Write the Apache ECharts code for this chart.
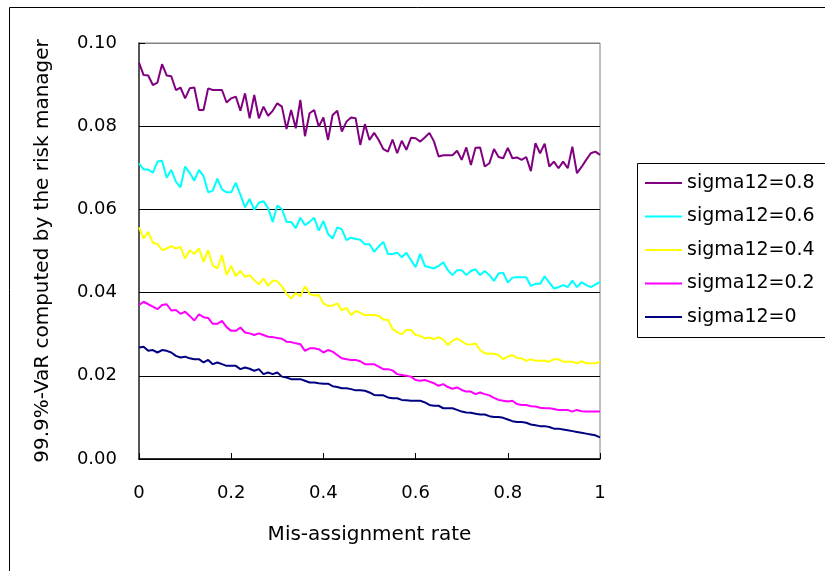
<!DOCTYPE html>
<html><head><meta charset="utf-8">
<script src="https://cdn.jsdelivr.net/npm/echarts@6/dist/echarts.min.js"></script>
<style>html,body{margin:0;padding:0;background:#fff}#c{width:825px;height:571px}</style>
</head><body><div id="c"></div>
<script>
const rates = [0,0.01,0.02,0.03,0.04,0.05,0.06,0.07,0.08,0.09,0.1,0.11,0.12,0.13,0.14,0.15,0.16,0.17,0.18,0.19,0.2,0.21,0.22,0.23,0.24,0.25,0.26,0.27,0.28,0.29,0.3,0.31,0.32,0.33,0.34,0.35,0.36,0.37,0.38,0.39,0.4,0.41,0.42,0.43,0.44,0.45,0.46,0.47,0.48,0.49,0.5,0.51,0.52,0.53,0.54,0.55,0.56,0.57,0.58,0.59,0.6,0.61,0.62,0.63,0.64,0.65,0.66,0.67,0.68,0.69,0.7,0.71,0.72,0.73,0.74,0.75,0.76,0.77,0.78,0.79,0.8,0.81,0.82,0.83,0.84,0.85,0.86,0.87,0.88,0.89,0.9,0.91,0.92,0.93,0.94,0.95,0.96,0.97,0.98,0.99,1];

const sigma08 = [0.0953,0.0923,0.0922,0.0899,0.0905,0.0949,0.0922,0.0920,0.0887,0.0893,
0.0867,0.0891,0.0893,0.0839,0.0839,0.0891,0.0887,0.0887,0.0887,0.0857,
0.0867,0.0871,0.0837,0.0879,0.0819,0.0875,0.0819,0.0847,0.0825,0.0837,
0.0855,0.0847,0.0793,0.0839,0.0795,0.0863,0.0776,0.0831,0.0839,0.0799,
0.0821,0.0767,0.0827,0.0837,0.0787,0.0811,0.0821,0.0819,0.0755,0.0805,
0.0767,0.0784,0.0767,0.0745,0.0739,0.0768,0.0735,0.0765,0.0743,0.0772,
0.0771,0.0763,0.0773,0.0784,0.0763,0.0727,0.0730,0.0730,0.0730,0.0741,
0.0719,0.0749,0.0707,0.0748,0.0749,0.0703,0.0711,0.0745,0.0726,0.0723,
0.0748,0.0723,0.0725,0.0719,0.0726,0.0692,0.0759,0.0735,0.0758,0.0703,
0.0715,0.0699,0.0715,0.0699,0.0751,0.0687,0.0702,0.0719,0.0735,0.0739,0.0731];

const sigma06 = [0.0711,0.0696,0.0696,0.0688,0.0715,0.0717,0.0676,0.0695,0.0667,0.0653,
0.0703,0.0688,0.0669,0.0695,0.0680,0.0641,0.0645,0.0674,0.0648,0.0641,
0.0641,0.0664,0.0635,0.0605,0.0625,0.0599,0.0616,0.0620,0.0603,0.0570,
0.0609,0.0601,0.0570,0.0570,0.0555,0.0580,0.0562,0.0570,0.0580,0.0549,
0.0572,0.0541,0.0530,0.0557,0.0552,0.0526,0.0532,0.0529,0.0527,0.0516,
0.0516,0.0498,0.0511,0.0522,0.0493,0.0493,0.0496,0.0485,0.0496,0.0478,
0.0461,0.0493,0.0464,0.0461,0.0458,0.0464,0.0473,0.0454,0.0442,0.0454,
0.0454,0.0442,0.0452,0.0456,0.0442,0.0452,0.0442,0.0428,0.0446,0.0448,
0.0424,0.0436,0.0437,0.0437,0.0437,0.0416,0.0421,0.0421,0.0439,0.0424,
0.0410,0.0413,0.0418,0.0413,0.0429,0.0413,0.0425,0.0418,0.0413,0.0419,0.0426];

const sigma04 = [0.0557,0.0530,0.0546,0.0520,0.0517,0.0502,0.0506,0.0512,0.0506,0.0510,
0.0482,0.0502,0.0493,0.0506,0.0474,0.0502,0.0465,0.0458,0.0490,0.0442,
0.0464,0.0440,0.0452,0.0438,0.0442,0.0430,0.0420,0.0434,0.0416,0.0429,
0.0427,0.0415,0.0397,0.0386,0.0399,0.0391,0.0415,0.0397,0.0393,0.0394,
0.0374,0.0368,0.0369,0.0374,0.0357,0.0363,0.0346,0.0356,0.0352,0.0346,
0.0346,0.0346,0.0344,0.0335,0.0335,0.0312,0.0305,0.0300,0.0310,0.0310,
0.0298,0.0296,0.0290,0.0292,0.0288,0.0293,0.0287,0.0274,0.0284,0.0290,
0.0283,0.0276,0.0275,0.0278,0.0262,0.0254,0.0253,0.0253,0.0250,0.0240,
0.0246,0.0250,0.0243,0.0242,0.0236,0.0240,0.0236,0.0236,0.0236,0.0234,
0.0240,0.0240,0.0234,0.0234,0.0234,0.0230,0.0235,0.0230,0.0230,0.0230,0.0234];

const sigma02 = [0.0370,0.0378,0.0372,0.0366,0.0360,0.0370,0.0372,0.0357,0.0358,0.0349,
0.0354,0.0344,0.0333,0.0348,0.0341,0.0339,0.0325,0.0325,0.0332,0.0317,
0.0308,0.0308,0.0316,0.0304,0.0302,0.0298,0.0302,0.0298,0.0294,0.0293,
0.0291,0.0289,0.0282,0.0281,0.0278,0.0276,0.0260,0.0266,0.0266,0.0264,
0.0256,0.0262,0.0258,0.0250,0.0242,0.0240,0.0238,0.0238,0.0235,0.0228,
0.0228,0.0228,0.0222,0.0216,0.0216,0.0213,0.0204,0.0202,0.0200,0.0198,
0.0190,0.0188,0.0190,0.0186,0.0182,0.0176,0.0180,0.0173,0.0169,0.0172,
0.0166,0.0162,0.0162,0.0156,0.0160,0.0156,0.0153,0.0147,0.0142,0.0140,
0.0138,0.0140,0.0132,0.0130,0.0130,0.0127,0.0126,0.0123,0.0122,0.0122,
0.0120,0.0118,0.0118,0.0118,0.0114,0.0118,0.0115,0.0114,0.0114,0.0114,0.0114];

const sigma00 = [0.0268,0.0270,0.0260,0.0262,0.0256,0.0262,0.0260,0.0256,0.0248,0.0244,
0.0246,0.0242,0.0240,0.0240,0.0232,0.0238,0.0228,0.0232,0.0228,0.0224,
0.0224,0.0224,0.0216,0.0220,0.0217,0.0212,0.0216,0.0204,0.0208,0.0204,
0.0208,0.0198,0.0196,0.0192,0.0192,0.0192,0.0188,0.0184,0.0184,0.0182,
0.0181,0.0181,0.0175,0.0173,0.0170,0.0170,0.0168,0.0165,0.0165,0.0164,
0.0160,0.0154,0.0153,0.0153,0.0148,0.0146,0.0146,0.0142,0.0141,0.0140,
0.0140,0.0140,0.0136,0.0130,0.0128,0.0128,0.0122,0.0122,0.0122,0.0118,
0.0114,0.0112,0.0111,0.0109,0.0107,0.0107,0.0103,0.0101,0.0101,0.0099,
0.0095,0.0091,0.0089,0.0089,0.0087,0.0083,0.0081,0.0079,0.0079,0.0077,
0.0073,0.0073,0.0071,0.0069,0.0067,0.0065,0.0063,0.0061,0.0059,0.0057,0.0052];

const seriesNames = ['sigma12=0.8','sigma12=0.6','sigma12=0.4','sigma12=0.2','sigma12=0'];
const seriesValues = [sigma08, sigma06, sigma04, sigma02, sigma00];
const seriesColors = ['#800080','#00FFFF','#FFFF00','#FF00FF','#000080'];
const yTicks = [0, 0.02, 0.04, 0.06, 0.08, 0.10];

const FONT = 'DejaVu Sans';
const chart = echarts.init(document.getElementById('c'), null, {renderer:'canvas'});

chart.setOption({
  animation: false,
  backgroundColor: '#fff',
  textStyle: {fontFamily: FONT},
  graphic: [
    {type:'rect', shape:{x:9.5, y:7.5, width:830, height:580}, style:{fill:'none', stroke:'#000', lineWidth:1}, z:-1},
    {type:'rect', shape:{x:637.5, y:163.5, width:200, height:174}, style:{fill:'#fff', stroke:'#000', lineWidth:1}, z:-1}
  ],
  grid: {left:139, right:225, top:43, bottom:112, show:true, borderColor:'#808080', borderWidth:1, backgroundColor:'transparent'},
  legend: {
    orient:'vertical', left:645, top:173,
    data: seriesNames,
    icon:'rect', itemWidth:37, itemHeight:2, itemGap:13.5,
    textStyle:{fontFamily:FONT, fontSize:19, color:'#000', lineHeight:20, padding:[0,0,0,0]},
    padding:0
  },
  xAxis: {
    type:'value', min:0, max:1, interval:0.2,
    name:'Mis-assignment rate', nameLocation:'middle', nameGap:66,
    nameTextStyle:{fontFamily:FONT, fontSize:20, color:'#000'},
    axisLine:{show:true, lineStyle:{color:'#000', width:1.5}},
    axisTick:{show:true, inside:true, length:6, lineStyle:{color:'#000'}},
    axisLabel:{margin:25, fontFamily:FONT, fontSize:18, color:'#000',
      formatter: v => String(Math.round(v*10)/10)},
    splitLine:{show:false}
  },
  yAxis: {
    type:'value', min:0, max:0.1, interval:0.02,
    name:'99.9%-VaR computed by the risk manager', nameLocation:'middle', nameGap:86,
    nameTextStyle:{fontFamily:FONT, fontSize:20, color:'#000'},
    axisLine:{show:true, lineStyle:{color:'#333', width:1.5}},
    axisTick:{show:true, inside:true, length:6, lineStyle:{color:'#000'}},
    axisLabel:{margin:22, fontFamily:FONT, fontSize:18, color:'#000',
      formatter: v => v.toFixed(2)},
    splitLine:{show:true, lineStyle:{color:['#000','#000','#000','#000','#000','#808080'], width:1}}
  },
  series: seriesNames.map((n, k) => ({
    name:n, type:'line', showSymbol:false, symbol:'none',
    data: rates.map((r, i) => [r, seriesValues[k][i]]),
    lineStyle:{color:seriesColors[k], width:2},
    itemStyle:{color:seriesColors[k]},
    z: 10 - k
  }))
});
</script></body></html>
